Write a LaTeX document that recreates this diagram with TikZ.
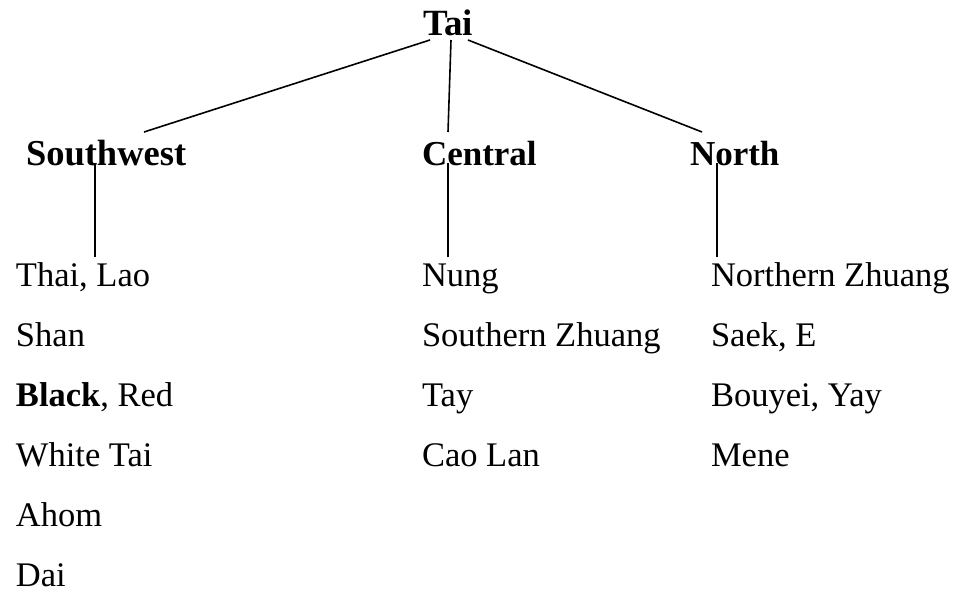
\documentclass[tikz,border=0pt]{standalone}
\usepackage{fontspec}
\setmainfont{Liberation Serif}
\begin{document}
\begin{tikzpicture}[x=1pt,y=-1pt,
  every node/.style={inner sep=0pt, outer sep=0pt, anchor=base west},
  head/.style={font=\fontsize{#1}{40}\selectfont\bfseries},
  head/.default=35,
  lang/.style={font=\fontsize{34.5}{40}\selectfont},
  branch/.style={line width=1.6pt}]
\useasboundingbox (0,0) rectangle (960,592);

% root and the three branches
\node[head=37]   (tai) at (423,35)  {Tai};
\node[head=36.5] (sw)  at (26,165)  {Southwest};
\node[head]      (ce)  at (422,165) {Central};
\node[head]      (no)  at (690,165) {North};

% attachment points of the tree lines
\coordinate (tai-l) at (430,40);
\coordinate (tai-c) at (451,40);
\coordinate (tai-r) at (468,40);
\coordinate (sw-in) at (144,132);
\coordinate (ce-in) at (448,132);
\coordinate (no-in) at (702,132);
\coordinate (sw-out) at (95,163);
\coordinate (ce-out) at (448,163);
\coordinate (no-out) at (717,163);
\coordinate (sw-leaf) at (95,257);
\coordinate (ce-leaf) at (448,257);
\coordinate (no-leaf) at (717,257);

% Southwest languages
\node[lang] (sw1) at (16,286) {Thai, Lao};
\node[lang] (sw2) at (16,346) {Shan};
\node[lang] (sw3) at (16,406) {\textbf{Black}, Red};
\node[lang] (sw4) at (16,466) {White Tai};
\node[lang] (sw5) at (16,526) {Ahom};
\node[lang] (sw6) at (16,586) {Dai};

% Central languages
\node[lang] (ce1) at (422,286) {Nung};
\node[lang] (ce2) at (422,346) {Southern Zhuang};
\node[lang] (ce3) at (422,406) {Tay};
\node[lang] (ce4) at (422,466) {Cao Lan};

% North languages
\node[lang] (no1) at (711,286) {Northern Zhuang};
\node[lang] (no2) at (711,346) {Saek, E};
\node[lang] (no3) at (711,406) {Bouyei, Yay};
\node[lang] (no4) at (711,466) {Mene};

% tree lines
\draw[branch] (tai-l) -- (sw-in);
\draw[branch] (tai-c) -- (ce-in);
\draw[branch] (tai-r) -- (no-in);
\draw[branch] (sw-out) -- (sw-leaf);
\draw[branch] (ce-out) -- (ce-leaf);
\draw[branch] (no-out) -- (no-leaf);
\end{tikzpicture}
\end{document}
